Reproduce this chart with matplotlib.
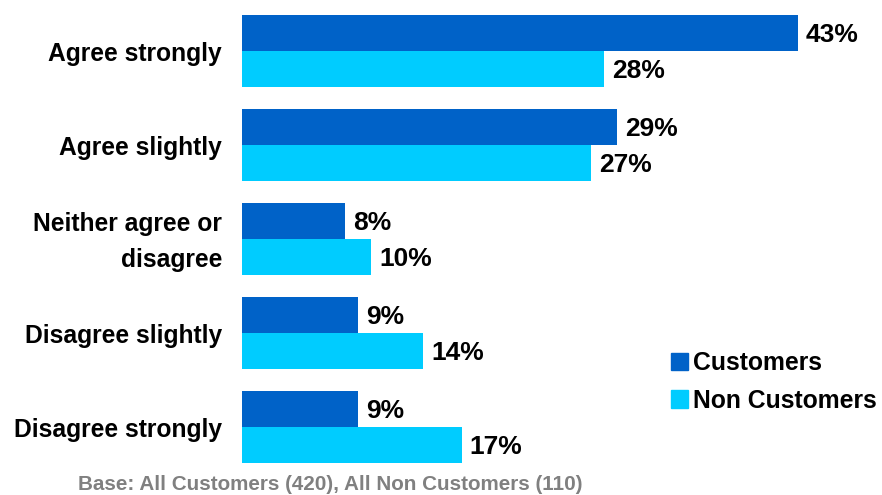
import matplotlib.pyplot as plt
from matplotlib.patches import Patch

categories = ["Agree strongly", "Agree slightly", "Neither agree or\ndisagree",
              "Disagree slightly", "Disagree strongly"]
customers = [43, 29, 8, 9, 9]
non_customers = [28, 27, 10, 14, 17]

DARK = "#0062C8"
LIGHT = "#00CCFF"

plt.rcParams["font.family"] = ["Liberation Sans", "DejaVu Sans"]
plt.rcParams["font.weight"] = "bold"

fig = plt.figure(figsize=(8.82, 4.95), dpi=100)
ax = fig.add_axes([242 / 882, 0, 640 / 882, 1])

px = 12.93  # pixels per percentage point
py = 94     # pixels per category
ax.set_xlim(0, 640 / px)
ax.set_ylim(444 / py, -51 / py)

h = 36 / py
pos = list(range(len(categories)))
ax.barh([p - h / 2 for p in pos], customers, height=h, color=DARK)
ax.barh([p + h / 2 for p in pos], non_customers, height=h, color=LIGHT)

for p, label, c, n in zip(pos, categories, customers, non_customers):
    ax.text(c + 8 / px, p - h / 2 + 2 / py, f"{c}%", va="center", ha="left",
            fontsize=19, fontweight="bold")
    ax.text(n + 8 / px, p + h / 2 + 2 / py, f"{n}%", va="center", ha="left",
            fontsize=19, fontweight="bold")
    ax.text(-20 / px, p + 3 / py, label, va="center", ha="right",
            fontsize=17.7, fontweight="bold", linespacing=1.6)

ax.axis("off")

handles = [Patch(color=DARK, label="Customers"),
           Patch(color=LIGHT, label="Non Customers")]
fig.legend(handles=handles, loc="upper left", bbox_to_anchor=(671 / 882, 1 - 351 / 495),
           frameon=False, prop={"size": 17.8, "weight": "bold"},
           handlelength=0.7, handleheight=0.7, handletextpad=0.2,
           labelspacing=0.55, borderpad=0, borderaxespad=0)

fig.text(330 / 882, 1 - 484 / 495, "Base: All Customers (420), All Non Customers (110)",
         ha="center", va="center", fontsize=14.9, fontweight="bold", color="#808080")

fig.savefig("out.png", dpi=100)
